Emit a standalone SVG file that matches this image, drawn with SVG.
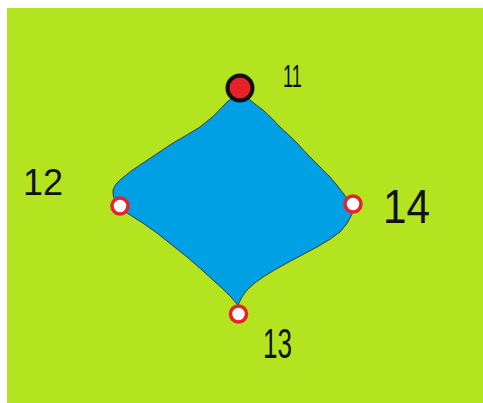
<svg xmlns="http://www.w3.org/2000/svg" width="483" height="403" viewBox="0 0 483 403">
<style>
.lbl{font-family:"Liberation Sans",Arial,sans-serif;fill:#111;}
.open{fill:#ffffff;stroke:#e8222a;stroke-width:3.5;}
.closed{fill:#e8222a;stroke:#111;stroke-width:4;}
</style>
<rect x="0" y="0" width="483" height="403" fill="#ffffff"/>
<rect x="7" y="8" width="476" height="395" fill="#b3e41f"/>
<g id="connectors">
<path d="M240,96 Q246,96 250,100 Q256,105 263,110 Q272,118 280,127 Q289,135 297,143 Q305,152 313,160 Q322,169 330,177 Q337,185 343,193 Q348,199 351,205 L352,214 Q348,224 340,232 Q330,240 317,247 Q302,255 287,263 Q274,270 263,277 Q254,283 247,290 Q241,297 238,305 Q235,302 231,297 Q222,288 213,280 Q200,268 187,257 Q172,245 157,233 Q142,222 127,213 Q120,208 116,202 Q112,196 113,190 Q115,184 120,180 Q130,171 143,163 Q158,153 173,143 Q187,135 200,127 Q214,117 227,102 Q232,97 240,96 Z" fill="#00a1e4" stroke="#3a3a3a" stroke-width="1" stroke-linejoin="round"/>
</g>
<g id="n11"><circle class="closed" cx="240" cy="88" r="12.5"/><text class="lbl" x="283" y="87" font-size="31" textLength="19" lengthAdjust="spacingAndGlyphs">11</text></g>
<g id="n12"><circle class="open" cx="120" cy="206" r="8"/><text class="lbl" x="23" y="195" font-size="37" textLength="40" lengthAdjust="spacingAndGlyphs">12</text></g>
<g id="n14"><circle class="open" cx="353" cy="204" r="8"/><text class="lbl" x="383" y="223" font-size="48" textLength="47" lengthAdjust="spacingAndGlyphs">14</text></g>
<g id="n13"><circle class="open" cx="238.5" cy="314" r="8"/><text class="lbl" x="263" y="358" font-size="43" textLength="29" lengthAdjust="spacingAndGlyphs">13</text></g>
</svg>
